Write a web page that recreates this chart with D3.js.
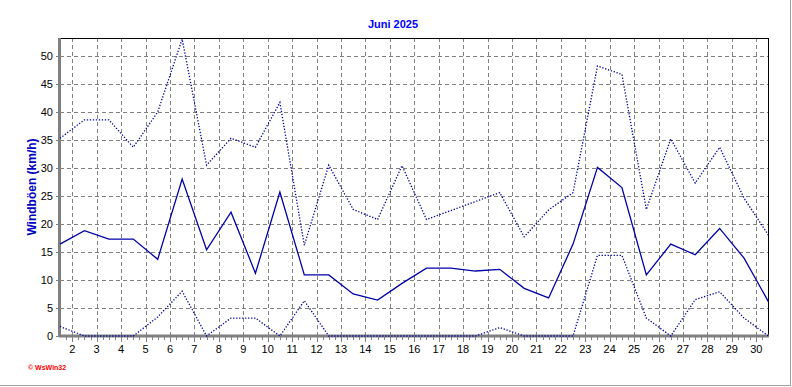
<!DOCTYPE html>
<html>
<head>
<meta charset="utf-8">
<script src="https://cdn.jsdelivr.net/npm/d3@7"></script>
<style>
  body { margin: 0; background: #fff; }
  svg { display: block; font-family: "Liberation Sans", Arial, sans-serif; }
</style>
</head>
<body>
<svg id="chart" width="792" height="387"></svg>
<script>
// data (km/h), one value per day of June
var days = [1,2,3,4,5,6,7,8,9,10,11,12,13,14,15,16,17,18,19,20,21,22,23,24,25,26,27,28,29,30];
var maxGust = [35.3,38.6,38.6,33.7,40.0,53.0,30.5,35.3,33.7,41.7,16.2,30.5,22.6,20.8,30.4,20.8,22.4,24.0,25.6,17.7,22.5,25.6,48.2,46.7,22.6,35.2,27.3,33.7,24.6,18.0];
var avgGust = [16.4,18.8,17.3,17.3,13.7,28.0,15.4,22.1,11.2,25.7,10.9,10.9,7.5,6.4,9.4,12.1,12.1,11.6,11.9,8.5,6.8,16.4,30.1,26.5,10.9,16.4,14.5,19.2,13.9,6.1];
var minGust = [1.7,0,0,0,3.4,8.0,0,3.2,3.2,0,6.3,0,0,0,0,0,0,0,1.5,0,0,0,14.4,14.4,3.2,0,6.5,7.9,3.2,0];
var yTicks = [0,5,10,15,20,25,30,35,40,45,50];
var xTicks = d3.range(2, 31);

var svg = d3.select("#chart"),
    margin = {top: 38, right: 24, bottom: 51, left: 60},
    width = +svg.attr("width") - margin.left - margin.right,
    height = +svg.attr("height") - margin.top - margin.bottom;

// outer frame (right + bottom only, like the original)
svg.append("line").attr("x1", 790.5).attr("x2", 790.5).attr("y1", 0).attr("y2", 386)
    .attr("stroke", "#a0a0a0");
svg.append("line").attr("x1", 0).attr("x2", 791).attr("y1", 385.5).attr("y2", 385.5)
    .attr("stroke", "#a0a0a0");

var g = svg.append("g").attr("transform", "translate(" + margin.left + "," + margin.top + ")");

// every value sits at noon of its day
var x = d3.scaleLinear().domain([1.5, 30.5]).range([0, width + 0.5]);
var y = d3.scaleLinear().domain([0, 53.2]).range([height, 0]);

//grid
g.append("g").selectAll("line").data(xTicks).enter().append("line")
    .attr("x1", function(d){ return Math.round(x(d)) + 0.5; })
    .attr("x2", function(d){ return Math.round(x(d)) + 0.5; })
    .attr("y1", 0).attr("y2", height)
    .attr("stroke", "#808080").attr("stroke-dasharray", "4,3");
g.append("g").selectAll("line").data(yTicks.slice(1)).enter().append("line")
    .attr("x1", 0).attr("x2", width)
    .attr("y1", function(d){ return Math.round(y(d)) + 0.5; })
    .attr("y2", function(d){ return Math.round(y(d)) + 0.5; })
    .attr("stroke", "#808080").attr("stroke-dasharray", "4,3");

// top and right border
g.append("line").attr("x1", 0).attr("x2", width + 1).attr("y1", 0.5).attr("y2", 0.5)
    .attr("stroke", "#000");
g.append("line").attr("x1", width + 0.5).attr("x2", width + 0.5).attr("y1", 0).attr("y2", height)
    .attr("stroke", "#000");

// axes
var xAxis = g.append("g").attr("transform", "translate(0," + height + ")");
xAxis.selectAll("line.minor").data(d3.range(1.75, 30.5, 0.25)).enter().append("line")
    .attr("x1", function(d){ return Math.round(x(d)) + 0.5; })
    .attr("x2", function(d){ return Math.round(x(d)) + 0.5; })
    .attr("y1", 0).attr("y2", function(d){ return d % 1 === 0 ? 6 : 4; })
    .attr("stroke", "#808080");
xAxis.selectAll("text").data(xTicks).enter().append("text")
    .attr("x", function(d){ return x(d); })
    .attr("y", 17)
    .attr("text-anchor", "middle")
    .attr("font-size", "11px")
    .attr("fill", "#000")
    .text(function(d){ return d; });

var yAxis = g.append("g");
yAxis.selectAll("line").data(d3.range(0, 54, 1)).enter().append("line")
    .attr("x1", function(d){ return d % 5 === 0 ? -4 : -2; }).attr("x2", 0)
    .attr("y1", function(d){ return Math.round(y(d)) + 0.5; })
    .attr("y2", function(d){ return Math.round(y(d)) + 0.5; })
    .attr("stroke", "#808080");
yAxis.selectAll("text").data(yTicks).enter().append("text")
    .attr("x", -7)
    .attr("y", function(d){ return y(d) + 4; })
    .attr("text-anchor", "end")
    .attr("font-size", "11px")
    .attr("fill", "#000")
    .text(function(d){ return d; });

g.append("line").attr("x1", -0.5).attr("x2", -0.5).attr("y1", 0).attr("y2", height + 1)
    .attr("stroke", "#808080").attr("stroke-width", 3);
g.append("line").attr("x1", -1).attr("x2", width + 1).attr("y1", height).attr("y2", height)
    .attr("stroke", "#808080").attr("stroke-width", 3);

//lines
var line = d3.line()
    .x(function(d){ return x(d.day + 0.5); })
    .y(function(d){ return y(d.v); });

function series(values){
    return days.map(function(d, i){ return {day: d, v: values[i]}; });
}

g.append("path").datum(series(minGust))
    .attr("fill", "none").attr("stroke", "#0000a0").attr("stroke-width", 1.3)
    .attr("stroke-dasharray", "1.3,1.7").attr("d", line);
g.append("path").datum(series(maxGust))
    .attr("fill", "none").attr("stroke", "#0000a0").attr("stroke-width", 1.3)
    .attr("stroke-dasharray", "1.3,1.7").attr("d", line);
g.append("path").datum(series(avgGust))
    .attr("fill", "none").attr("stroke", "#0000a8").attr("stroke-width", 1.3)
    .attr("d", line);

// title, axis label, logo
svg.append("text")
    .attr("x", 393).attr("y", 28)
    .attr("text-anchor", "middle")
    .attr("font-size", "11px").attr("font-weight", "bold")
    .attr("fill", "#0000ff")
    .text("Juni 2025");

svg.append("text")
    .attr("transform", "translate(36,187) rotate(-90)")
    .attr("text-anchor", "middle")
    .attr("font-size", "12px").attr("font-weight", "bold")
    .attr("fill", "#0000c0")
    .text("Windböen  (km/h)");

svg.append("text")
    .attr("x", 28).attr("y", 370)
    .attr("font-size", "7px").attr("font-weight", "bold")
    .attr("fill", "#ff0000")
    .text("\u00a9 WsWin32");
</script>
</body>
</html>
